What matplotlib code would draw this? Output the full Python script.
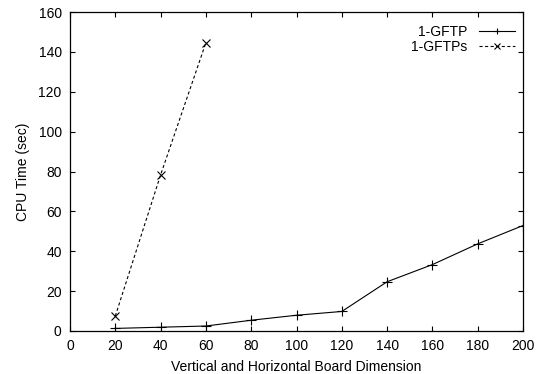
import matplotlib
matplotlib.use("Agg")
import matplotlib.pyplot as plt

# Data
board_dim = [20, 40, 60, 80, 100, 120, 140, 160, 180, 200]
gftp_time = [1.3, 1.9, 2.5, 5.4, 7.9, 9.8, 24.7, 33.3, 43.7, 52.9]
gftps_dim = [20, 40, 60]
gftps_time = [7.5, 78.3, 144.6]

x_ticks = list(range(0, 201, 20))
y_ticks = list(range(0, 161, 20))

plt.rcParams['font.family'] = ['Liberation Sans', 'DejaVu Sans']
plt.rcParams['font.size'] = 10

fig = plt.figure(figsize=(5.45, 3.74), dpi=100)
ax = fig.add_axes([70/545, 1 - 331/374, 453/545, 319/374])

ax.plot(board_dim, gftp_time, color='black', lw=0.8, marker='+', ms=7,
        mew=0.8, label='1-GFTP')
line2, = ax.plot(gftps_dim, gftps_time, color='black', lw=0.8, marker='x', ms=6,
                 mew=0.8, label='1-GFTPs')
line2.set_dashes([2.8, 2.2])

ax.set_xlim(0, 200)
ax.set_ylim(0, 160)
ax.set_xticks(x_ticks)
ax.set_yticks(y_ticks)
ax.tick_params(direction='in', top=True, right=True, length=3.6, width=0.8, pad=6)
for s in ax.spines.values():
    s.set_linewidth(0.9)

ax.set_xlabel('Vertical and Horizontal Board Dimension', labelpad=5)
ax.set_ylabel('CPU Time (sec)', labelpad=6)

leg = ax.legend(loc='upper right', bbox_to_anchor=(1.0, 0.985), frameon=False,
                markerfirst=False, handlelength=2.6, handletextpad=0.8,
                borderaxespad=0.4, borderpad=0.2, labelspacing=0.05, numpoints=1,
                markerscale=0.7)

fig.savefig('out.png', dpi=100)
